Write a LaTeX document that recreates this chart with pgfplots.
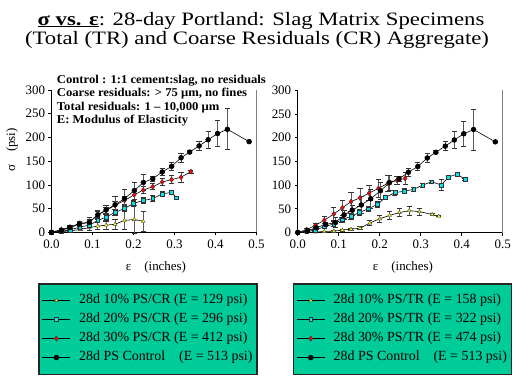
\documentclass[border=0pt]{standalone}
\usepackage{fontspec}
\setmainfont{Liberation Serif}
\usepackage{graphicx}
\usepackage{pgfplots}
\usepackage{pgfplotstable}
\pgfplotsset{compat=1.18}
\definecolor{lgreen}{RGB}{0,204,153}
\definecolor{mycyan}{RGB}{0,230,240}
\definecolor{myyellow}{RGB}{255,255,0}

\pgfplotstableread{
x y e
0 0 0
0.024 4 2
0.045 10 3
0.068 17 4
0.092 21 10
0.113 37 9
0.133 47 10
0.155 58 18
0.178 71 20
0.202 88 18
0.224 105 16
0.247 113 5
0.270 127 8
0.293 139 9
0.316 157 10
0.337 169 3
0.360 182 9
0.382 195 18
0.405 208 27
0.429 217 43
0.482 191 0
}\control

\pgfplotstableread{
x y e
0 0 0
0.024 6 2
0.045 11 3
0.069 19 4
0.092 21 6
0.113 37 6
0.133 46 7
0.155 57 8
0.178 67 9
0.202 79 10
0.224 89 8
0.247 96 6
0.270 106 7
0.293 111 8
0.316 116 10
0.340 128 3
}\crthirty

\pgfplotstableread{
x y e
0 0 0
0.024 2 1
0.045 5 2
0.069 11 3
0.092 15 4
0.113 25 5
0.133 32 6
0.155 42 6
0.178 50 7
0.200 61 6
0.224 67 6
0.247 71 6
0.270 81 5
0.292 84 5
0.305 73 3
}\crtwenty

\pgfplotstableread{
x y e
0 0 0
0.045 3 2
0.070 6 3
0.092 10 6
0.113 13 7
0.133 15 8
0.155 17 10
0.178 25 18
0.202 27 30
0.224 23 22
}\crten

\pgfplotstableread{
x y e
0 0 0
0.022 6 3
0.043 15 4
0.065 26 7
0.088 39 13
0.109 52 16
0.130 65 20
0.152 73 19
0.174 83 16
0.197 93 18
0.220 104 17
0.242 110 9
0.262 114 13
}\trthirty

\pgfplotstableread{
x y e
0 0 0
0.022 2 1
0.042 5 2
0.065 12 4
0.088 18 5
0.108 27 5
0.130 34 6
0.150 42 6
0.172 50 6
0.194 59 6
0.214 74 5
0.237 84 5
0.260 87 5
0.283 91 4
0.305 100 4
0.327 107 3
0.350 100 12
0.368 117 3
0.389 123 2
0.408 112 2
}\trtwenty

\pgfplotstableread{
x y e
0 0 0
0.022 0 0
0.043 1 1
0.065 2 1
0.088 3 2
0.109 5 2
0.130 7 2
0.152 9 3
0.176 20 5
0.200 29 8
0.224 36 8
0.248 42 9
0.272 46 9
0.297 44 7
0.328 38 2
0.344 34 1
}\trten

\pgfplotsset{
  panel/.style={
    scale only axis, width=205bp, height=142.4bp,
    xmin=0, xmax=0.5, ymin=0, ymax=300,
    xtick={0,0.1,0.2,0.3,0.4,0.5}, ytick={0,50,100,150,200,250,300},
    axis x line*=bottom, axis y line*=left, axis line style={-, line width=0.8pt},
    tick align=outside, major tick length=3bp,
    tick style={black, line width=0.6pt},
    xticklabel style={/pgf/number format/fixed, /pgf/number format/fixed zerofill, /pgf/number format/precision=1, yshift=-1bp},
    /pgf/number format/assume math mode=true,
    tick label style={font=\fontsize{13}{13}\selectfont},
    clip=false,
    legend cell align=left,
    legend image code/.code={\draw[mark repeat=2,mark phase=2,##1] plot coordinates {(0bp,0bp)(14bp,0bp)(28bp,0bp)};\path (35bp,0bp);},
    legend style={anchor=north west, fill=lgreen, draw=black!85,
      line width=1.6bp, font=\fontsize{14}{14}\selectfont, inner xsep=3bp, inner ysep=8.5bp,
      row sep=2.5bp, nodes={inner sep=1.5bp, text height=10bp, text depth=3.5bp}},
  },
  ebar/.style={error bars/.cd, y dir=both, y explicit,
    error bar style={gray!70!black, line width=0.8pt},
    error mark options={rotate=90, mark size=2.6bp, gray!40!black, line width=0.8pt}},
  sten/.style={black, line width=0.6pt, mark=triangle*, mark size=2.2bp, mark options={fill=myyellow, draw=black!70, line width=0.4pt}},
  sttwenty/.style={black, line width=0.6pt, mark=square*, mark size=1.9bp, mark options={fill=mycyan, draw=black!80, line width=0.5pt}},
  stthirty/.style={black, line width=0.6pt, mark=diamond*, mark size=2.6bp, mark options={fill=red, draw=black!80, line width=0.4pt}},
  stcontrol/.style={black, line width=0.6pt, mark=*, mark size=2.4bp, mark options={fill=black, draw=black}},
}

\begin{document}
\begin{tikzpicture}
\useasboundingbox (0bp,0bp) rectangle (518bp,-388bp);

\node[anchor=base, inner sep=0] at (261bp,-25bp) {\scalebox{1.2}[1]{\fontsize{19}{21}\selectfont \underline{\textbf{σ vs. ε}}: 28-day Portland: Slag Matrix Specimens}};
\node[anchor=base, inner sep=0] at (257bp,-44bp) {\scalebox{1.2}[1]{\fontsize{19}{21}\selectfont (Total (TR) and Coarse Residuals (CR) Aggregate)}};

\begin{axis}[panel, at={(51.5bp,-232.3bp)}, anchor=south west,
  legend style={at={(-0.0644,-0.356)}}]
  \addplot[sten, ebar] table[x=x, y=y, y error=e] {\crten};
  \addlegendentry{28d 10\% PS/CR (E = 129 psi)\hspace{10bp}}
  \addplot[sttwenty, ebar] table[x=x, y=y, y error=e] {\crtwenty};
  \addlegendentry{28d 20\% PS/CR (E = 296 psi)}
  \addplot[stthirty, ebar] table[x=x, y=y, y error=e] {\crthirty};
  \addlegendentry{28d 30\% PS/CR (E = 412 psi)}
  \addplot[stcontrol, ebar] table[x=x, y=y, y error=e] {\control};
  \addlegendentry{28d PS Control\quad(E = 513 psi)}
  \draw[gray, line width=1.2pt] (rel axis cs:1,0) -- (rel axis cs:1,1);
\end{axis}

\begin{axis}[panel, at={(297.7bp,-232.5bp)}, anchor=south west,
  legend style={at={(-0.0244,-0.355)}}]
  \addplot[sten, ebar] table[x=x, y=y, y error=e] {\trten};
  \addlegendentry{28d 10\% PS/TR (E = 158 psi)\hspace{4bp}}
  \addplot[sttwenty, ebar] table[x=x, y=y, y error=e] {\trtwenty};
  \addlegendentry{28d 20\% PS/TR (E = 322 psi)}
  \addplot[stthirty, ebar] table[x=x, y=y, y error=e] {\trthirty};
  \addlegendentry{28d 30\% PS/TR (E = 474 psi)}
  \addplot[stcontrol, ebar] table[x=x, y=y, y error=e] {\control};
  \addlegendentry{28d PS Control\quad(E = 513 psi)}
  \draw[gray, line width=1.2pt] (rel axis cs:1,0) -- (rel axis cs:1,1);
\end{axis}

\node[rotate=90, inner sep=0] at (12bp,-150bp) {\fontsize{13}{13}\selectfont σ\quad(psi)};
\node[inner sep=0] at (156bp,-267bp) {\fontsize{13}{13}\selectfont ε\quad(inches)};
\node[inner sep=0] at (403bp,-267bp) {\fontsize{13}{13}\selectfont ε\quad(inches)};

\begin{scope}[every node/.style={anchor=base west, inner sep=0, font=\fontsize{12}{12}\selectfont\bfseries}]
\node at (56.7bp,-83bp) {\scalebox{1.06}[1]{Control : 1:1 cement:slag, no residuals}};
\node at (56.7bp,-96.5bp) {\scalebox{1.06}[1]{Coarse residuals: > 75 μm, no fines}};
\node at (56.7bp,-110bp) {\scalebox{1.06}[1]{Total residuals: 1 – 10,000 μm}};
\node at (56.7bp,-123.5bp) {\scalebox{1.06}[1]{E: Modulus of Elasticity}};
\end{scope}
\end{tikzpicture}
\end{document}
